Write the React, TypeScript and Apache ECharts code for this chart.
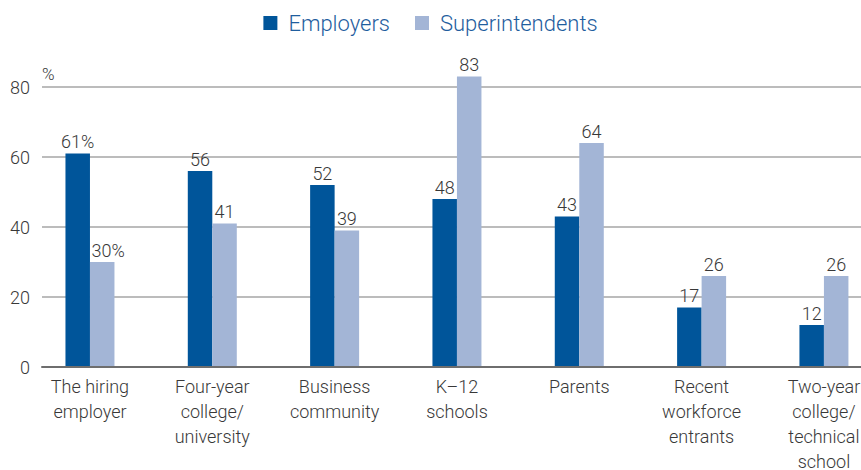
import React, { useEffect, useRef } from "react";
import * as echarts from "echarts";

const categories = [
  "The hiring\nemployer",
  "Four-year\ncollege/\nuniversity",
  "Business\ncommunity",
  "K–12\nschools",
  "Parents",
  "Recent\nworkforce\nentrants",
  "Two-year\ncollege/\ntechnical\nschool",
];
const seriesNames = ["Employers", "Superintendents"];
const employers = [61, 56, 52, 48, 43, 17, 12];
const superintendents = [30, 41, 39, 83, 64, 26, 26];
const yTicks = { min: 0, max: 80, interval: 20 };

const FONT = "Roboto, 'Liberation Sans', sans-serif";
const WEIGHT = 300;
const TEXT = "#383838";
const DARK = "#00559a";
const LIGHT = "#a3b5d6";

export default function App() {
  const ref = useRef<HTMLDivElement>(null);
  useEffect(() => {
    if (!ref.current) return;
    const chart = echarts.init(ref.current, null, { renderer: "svg" });
    const valueLabel = () => ({
      show: true,
      position: "top" as const,
      distance: 3,
      color: TEXT,
      fontSize: 18,
      fontWeight: WEIGHT,
      fontFamily: FONT,
      formatter: (p: any) => (p.dataIndex === 0 ? `${p.value}%` : `${p.value}`),
    });
    const withFirstOffset = (arr: number[], dx: number) =>
      arr.map((v, i) => (i === 0 ? { value: v, label: { offset: [dx, 0] } } : v));
    chart.setOption({
      animation: false,
      backgroundColor: "#ffffff",
      textStyle: { fontFamily: FONT },
      legend: {
        top: 7,
        left: "center",
        icon: "rect",
        itemWidth: 14,
        itemHeight: 14,
        itemGap: 25,
        data: seriesNames,
        textStyle: {
          color: "#1f5e9e",
          fontSize: 22,
          fontWeight: WEIGHT,
          fontFamily: FONT,
          padding: [0, 0, 0, 6],
        },
      },
      grid: [
        { left: 42, right: 0, top: 87, bottom: 103, outerBoundsMode: "none" },
        { left: 28.8, width: 856.3, top: 52, bottom: 103, outerBoundsMode: "none" },
      ],
      xAxis: [
        {
          gridIndex: 0,
          type: "category",
          data: categories,
          z: 5,
          axisLine: { show: true, lineStyle: { color: "#6e6e6e", width: 2 } },
          axisTick: { show: false },
          axisLabel: { show: false },
          splitLine: { show: false },
        },
        {
          gridIndex: 1,
          type: "category",
          data: categories,
          axisLine: { show: false },
          axisTick: { show: false },
          axisLabel: {
            show: true,
            color: TEXT,
            fontSize: 18,
            fontWeight: WEIGHT,
            lineHeight: 25,
            margin: 7,
            fontFamily: FONT,
            interval: 0,
          },
        },
      ],
      yAxis: [
        {
          gridIndex: 0,
          type: "value",
          min: yTicks.min,
          max: yTicks.max,
          interval: yTicks.interval,
          name: "%",
          nameLocation: "end",
          nameGap: 5,
          nameTextStyle: {
            color: TEXT,
            fontSize: 17,
            fontWeight: WEIGHT,
            fontFamily: FONT,
            align: "left",
          },
          axisLine: { show: false },
          axisTick: { show: false },
          axisLabel: { color: TEXT, fontSize: 18, fontWeight: WEIGHT, margin: 12, fontFamily: FONT },
          splitLine: { show: true, lineStyle: { color: "#a6a6a6", width: 1.5 } },
        },
        {
          gridIndex: 1,
          type: "value",
          min: 0,
          max: 90,
          show: false,
          splitLine: { show: false },
        },
      ],
      series: [
        {
          name: seriesNames[0],
          type: "bar",
          xAxisIndex: 1,
          yAxisIndex: 1,
          data: employers,
          barWidth: 24.5,
          barGap: "0%",
          itemStyle: { color: DARK },
          label: valueLabel(),
        },
        {
          name: seriesNames[1],
          type: "bar",
          xAxisIndex: 1,
          yAxisIndex: 1,
          data: withFirstOffset(superintendents, 6),
          barWidth: 24.5,
          barGap: "0%",
          itemStyle: { color: LIGHT },
          label: valueLabel(),
        },
      ],
    });
    return () => chart.dispose();
  }, []);
  return (
    <div
      ref={ref}
      style={{ position: "fixed", left: 0, top: 0, width: 861, height: 470, background: "#fff" }}
    />
  );
}
